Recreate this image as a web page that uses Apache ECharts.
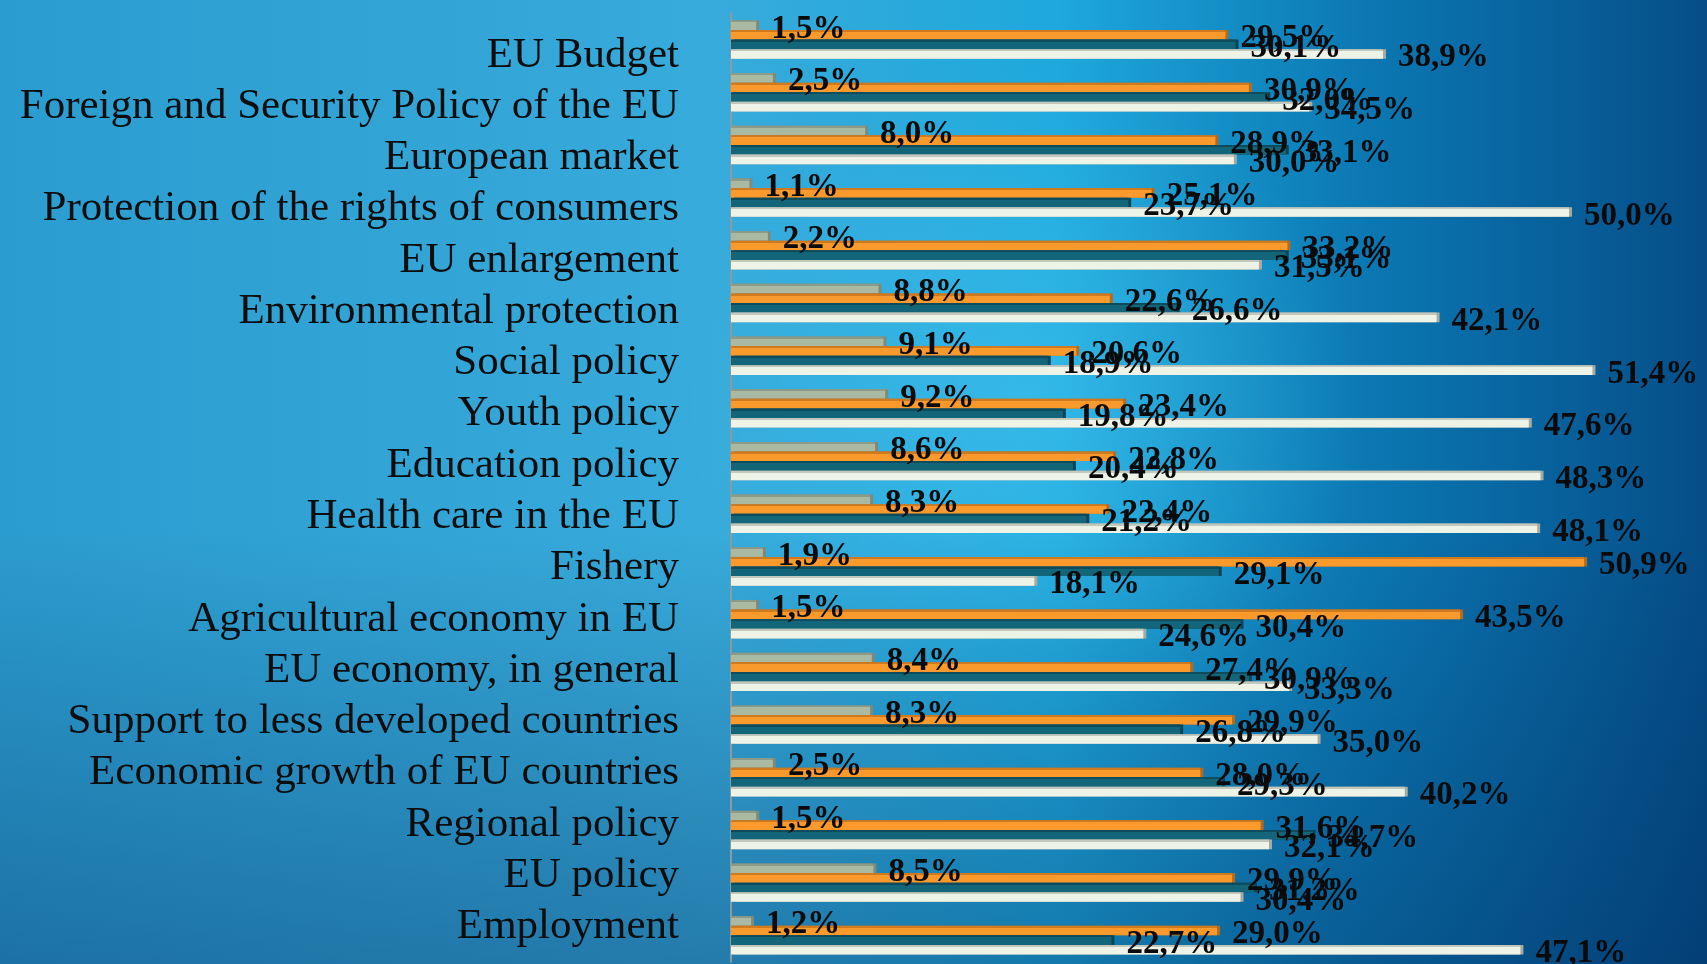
<!DOCTYPE html>
<html><head><meta charset="utf-8">
<style>html,body{margin:0;padding:0;width:1707px;height:964px;overflow:hidden;}#c{width:1707px;height:964px;}</style>
<script src="https://cdn.jsdelivr.net/npm/echarts@6/dist/echarts.min.js"></script>
</head><body><div id="c"></div>
<script>
const categories = [
  'EU Budget',
  'Foreign and Security Policy of the EU',
  'European market',
  'Protection of the rights of consumers',
  'EU enlargement',
  'Environmental protection',
  'Social policy',
  'Youth policy',
  'Education policy',
  'Health care in the EU',
  'Fishery',
  'Agricultural economy in EU',
  'EU economy, in general',
  'Support to less developed countries',
  'Economic growth of EU countries',
  'Regional policy',
  'EU policy',
  'Employment'
];
const grayValues   = [1.5, 2.5, 8.0, 1.1, 2.2, 8.8, 9.1, 9.2, 8.6, 8.3, 1.9, 1.5, 8.4, 8.3, 2.5, 1.5, 8.5, 1.2];
const orangeValues = [29.5, 30.9, 28.9, 25.1, 33.2, 22.6, 20.6, 23.4, 22.8, 22.4, 50.9, 43.5, 27.4, 29.9, 28.0, 31.6, 29.9, 29.0];
const tealValues   = [30.1, 32.0, 33.1, 23.7, 33.1, 26.6, 18.9, 19.8, 20.4, 21.2, 29.1, 30.4, 30.9, 26.8, 29.3, 34.7, 31.2, 22.7];
const whiteValues  = [38.9, 34.5, 30.0, 50.0, 31.5, 42.1, 51.4, 47.6, 48.3, 48.1, 18.1, 24.6, 33.3, 35.0, 40.2, 32.1, 30.4, 47.1];

const chart = echarts.init(document.getElementById('c'));
const fmt = p => p.value.toFixed(1).replace('.', ',') + '%';
function barGrad(top, main) {
  return { type: 'linear', x: 0, y: 0, x2: 0, y2: 1, colorStops: [
    { offset: 0, color: top }, { offset: 0.22, color: top },
    { offset: 0.22, color: main }, { offset: 1, color: main } ] };
}
function mk(name, data, top, main, cap) {
  return {
    name, type: 'bar', data, xAxisIndex: 0, yAxisIndex: 0,
    barWidth: 9.6, barGap: '0%',
    itemStyle: { color: barGrad(top, main), shadowColor: cap, shadowOffsetX: 3, shadowOffsetY: 0, shadowBlur: 0 },
    label: { show: true, position: 'right', distance: 15, offset: [0, 4], formatter: fmt,
      fontFamily: 'Liberation Serif', fontWeight: 'bold', fontSize: 33, color: '#0a0a0a' },
    silent: true, animation: false
  };
}
const W = 1707, H = 964;
chart.setOption({
  animation: false,
  backgroundColor: { type: 'linear', x: 0, y: 0, x2: 1, y2: 0, colorStops: [
    { offset: 0, color: '#2b9ccf' }, { offset: 0.42, color: '#37abdb' },
    { offset: 0.62, color: '#1ea8dc' }, { offset: 0.8, color: '#0b78b3' }, { offset: 1, color: '#054e88' } ] },
  graphic: [
    { type: 'rect', z: -10, silent: true, shape: { x: 0, y: 0, width: W, height: H },
      style: { fill: { type: 'radial', x: 0.6, y: 0.42, r: 0.35, colorStops: [
        { offset: 0, color: 'rgba(90,215,255,0.35)' }, { offset: 1, color: 'rgba(90,215,255,0)' } ] } } },
    { type: 'rect', z: -9, silent: true, shape: { x: 0, y: 0, width: W, height: H },
      style: { fill: { type: 'linear', x: 0, y: 0, x2: 0, y2: 1, colorStops: [
        { offset: 0, color: 'rgba(0,30,80,0)' }, { offset: 0.55, color: 'rgba(0,30,80,0)' }, { offset: 1, color: 'rgba(0,35,85,0.35)' } ] } } }
  ],
  grid: [
    { left: 731, right: W - (731 + 55 * 16.76), top: 13.2, bottom: 2.3, containLabel: false },
    { left: 731, right: W - (731 + 55 * 16.76), top: 29.6, bottom: 11.4, containLabel: false }
  ],
  xAxis: [
    { type: 'value', gridIndex: 0, min: 0, max: 55, show: false },
    { type: 'value', gridIndex: 1, min: 0, max: 55, show: false }
  ],
  yAxis: [
    { type: 'category', gridIndex: 0, data: categories, inverse: true,
      axisLine: { show: true, lineStyle: { color: '#8e9aa0', width: 2 } },
      axisTick: { show: false }, axisLabel: { show: false } },
    { type: 'category', gridIndex: 1, data: categories, inverse: true,
      axisLine: { show: false }, axisTick: { show: false },
      axisLabel: { show: true, interval: 0, margin: 52, fontFamily: 'Liberation Serif', fontSize: 43, color: '#0d0d0d' } }
  ],
  series: [
    mk('Gray', grayValues, '#8e9a88', '#a9b9a2', '#7d8a78'),
    mk('Orange', orangeValues, '#cf7a1e', '#fa9a2d', '#b86a18'),
    mk('Teal', tealValues, '#0e4c5d', '#13667a', '#0c4656'),
    mk('White', whiteValues, '#c3c8bd', '#eef3e8', '#a7aca2')
  ]
});
</script>
</body></html>
